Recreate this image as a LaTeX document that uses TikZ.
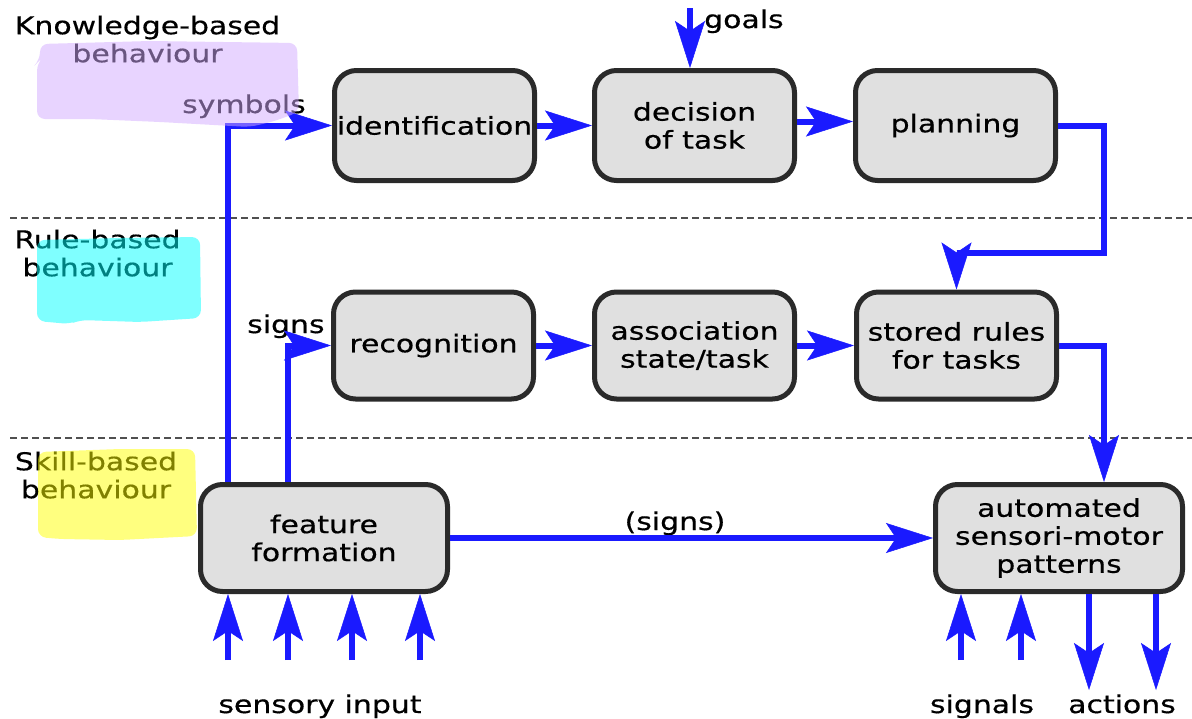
\documentclass[tikz,border=0pt]{standalone}
\usepackage{fontspec}
\setmainfont{DejaVu Sans}[FakeStretch=1.22,FakeBold=0.5]
\usetikzlibrary{arrows.meta}
\definecolor{myblue}{RGB}{26,26,255}
\definecolor{boxline}{RGB}{42,42,42}
\definecolor{boxfill}{RGB}{224,224,224}
\definecolor{dashgray}{RGB}{80,80,80}
\definecolor{hlpurple}{RGB}{211,171,255}
\definecolor{hlcyan}{RGB}{0,255,255}
\definecolor{hlyellow}{RGB}{255,255,0}
\tikzset{
  txt/.style={font=\fontsize{24.5}{28}\selectfont, inner sep=0pt, align=center},
  box/.style={txt, draw=boxline, line width=5pt, fill=boxfill, rounded corners=22pt,
              minimum width=200pt, minimum height=110pt},
  arr/.style={draw=myblue, line width=6pt,
              -{Stealth[length=47pt,width=30pt,inset=10pt,line width=0.5pt]}},
  dashline/.style={draw=dashgray, line width=1.2pt, dash pattern=on 7pt off 4pt},
  hl/.style={opacity=0.5, rounded corners=8pt}
}
\begin{document}
\begin{tikzpicture}[x=1pt,y=-1pt]
\fill[white] (0,0) rectangle (1192,718);
\useasboundingbox (0,0) rectangle (1192,718);

% layer separators
\coordinate (d1a) at (10,218); \coordinate (d1b) at (1192,218);
\coordinate (d2a) at (10,438); \coordinate (d2b) at (1192,438);
\draw[dashline] (d1a) -- (d1b);
\draw[dashline] (d2a) -- (d2b);

% boxes
\node[box] (ident) at (434.5,125.5) {identification};
\node[box] (decision) at (694.5,125.5) {decision\\of task};
\node[box] (planning) at (955.5,125.5) {planning};
\node[box, minimum height=107pt] (recog) at (433.5,345.5) {recognition};
\node[box, minimum height=107pt] (assoc) at (694.5,345.5) {association\\state/task};
\node[box, minimum height=107pt] (stored) at (956.5,345.5) {stored rules\\for tasks};
\node[box, minimum width=247pt, minimum height=107pt] (feature) at (324,538) {feature\\formation};
\node[box, minimum width=247pt, minimum height=107pt] (auto) at (1059,538) {automated\\sensori-motor\\patterns};

% level labels
\node[txt, anchor=north] (kb) at (147.5,15.4) {Knowledge-based\\behaviour};
\node[txt, anchor=north] (rb) at (97.5,229.4) {Rule-based\\behaviour};
\node[txt, anchor=north] (sb) at (96,451.4) {Skill-based\\behaviour};

% connector labels
\node[txt, anchor=base west] (symlbl) at (182,113) {symbols};
\node[txt, anchor=base west] (signlbl) at (247,333) {signs};
\node[txt, anchor=base west] (goallbl) at (704,28) {goals};
\node[txt, anchor=base] (psignlbl) at (675,530) {(signs)};
\node[txt, anchor=base] (senslbl) at (320,713) {sensory input};
\node[txt, anchor=base] (siglbl) at (982,713) {signals};
\node[txt, anchor=base] (actlbl) at (1122,713) {actions};

% helper coordinates
\coordinate (symx) at (228,0);
\coordinate (signx) at (288,0);
\coordinate (goaltop) at (690,8);
\coordinate (rx) at (1104,0);
\coordinate (turn) at (1104,253);
\coordinate (s1) at (228,660);
\coordinate (s2) at (288,660);
\coordinate (s3) at (352,660);
\coordinate (s4) at (420,660);
\coordinate (g1) at (961,660);
\coordinate (g2) at (1021,660);
\coordinate (a1) at (1089,690);
\coordinate (a2) at (1156,690);

% connectors
\draw[arr] (symx |- feature.north) |- (ident.west);
\draw[arr] (signx |- feature.north) |- (recog.west);
\draw[arr] (ident.east) -- (decision.west);
\draw[arr] ([yshift=4pt]decision.east) -- ([yshift=4pt]planning.west);
\draw[arr] (goaltop) -- (goaltop |- decision.north);
\draw[arr] (planning.east) -| (turn) -| (stored.north);
\draw[arr] (recog.east) -- (assoc.west);
\draw[arr] (assoc.east) -- (stored.west);
\draw[arr] (stored.east) -| (rx |- auto.north);
\draw[arr] (feature.east) -- (auto.west);
\foreach \s in {s1,s2,s3,s4} \draw[arr] (\s) -- (\s |- feature.south);
\foreach \s in {g1,g2} \draw[arr] (\s) -- (\s |- auto.south);
\foreach \s in {a1,a2} \draw[arr] (\s |- auto.south) -- (\s);

% marker highlights
\fill[hl, fill=hlpurple] (40,44) -- (150,41) -- (297,43) -- (299,112) -- (275,121)
   -- (250,127) -- (160,122) -- (90,119) -- (37,119) -- (37,63) -- (40,60) -- cycle;
\fill[hl, fill=hlcyan] (37,240) -- (120,238) -- (200,237) -- (201,318) -- (140,322)
   -- (80,320) -- (70,324) -- (37,321) -- cycle;
\fill[hl, fill=hlyellow] (38,452) -- (120,449) -- (195,449) -- (197,536) -- (120,540)
   -- (60,539) -- (38,537) -- cycle;
\end{tikzpicture}
\end{document}
